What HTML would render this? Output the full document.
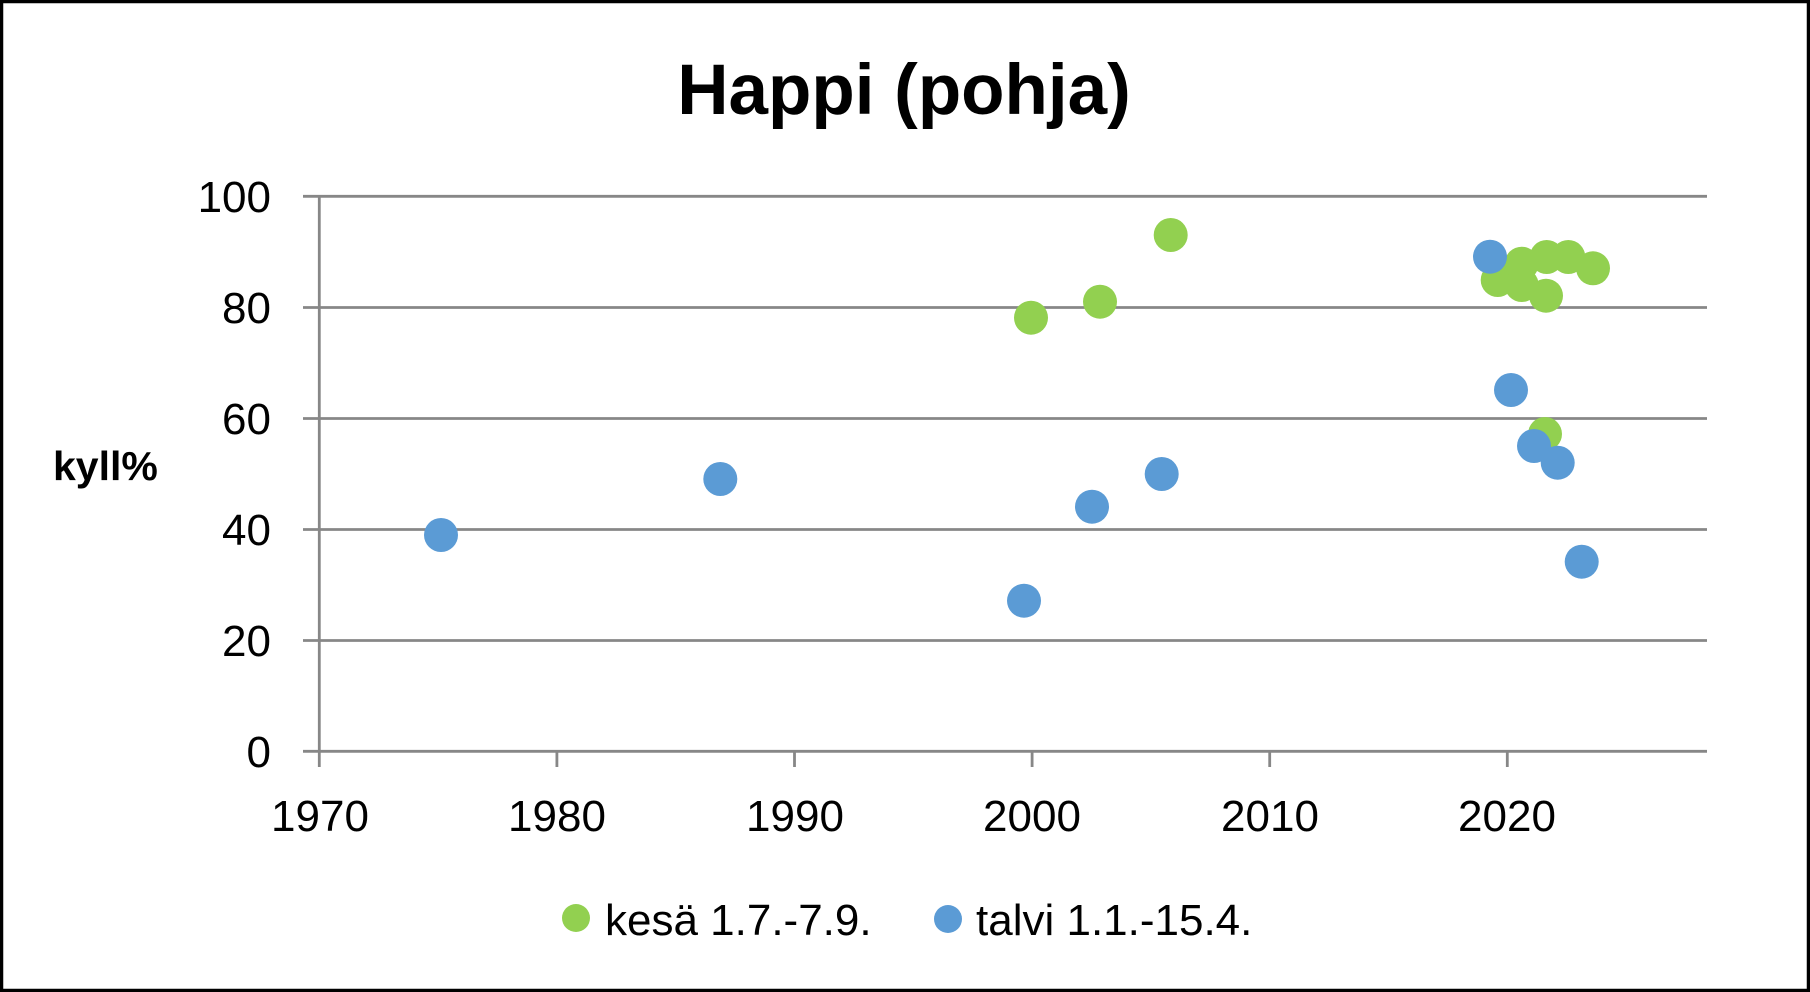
<!DOCTYPE html>
<html>
<head>
<meta charset="utf-8">
<style>
  html, body { margin: 0; padding: 0; background: #fff; }
  body { width: 1810px; height: 992px; overflow: hidden; }
  svg { display: block; }
  text { font-family: "Liberation Sans", sans-serif; fill: #000; }
</style>
</head>
<body>
<svg width="1810" height="992" viewBox="0 0 1810 992" xmlns="http://www.w3.org/2000/svg">
  <rect x="0" y="0" width="1810" height="992" fill="#fff"/>
  <rect x="1.5" y="1.5" width="1807" height="989" fill="none" stroke="#000" stroke-width="3.5"/>

  <!-- Title -->
  <text x="904" y="114" font-size="71" font-weight="bold" text-anchor="middle">Happi (pohja)</text>

  <!-- Gridlines -->
  <g stroke="#878787" stroke-width="2.8">
    <line x1="303" y1="196.3" x2="1707" y2="196.3"/>
    <line x1="303" y1="307.5" x2="1707" y2="307.5"/>
    <line x1="303" y1="418.5" x2="1707" y2="418.5"/>
    <line x1="303" y1="529.5" x2="1707" y2="529.5"/>
    <line x1="303" y1="640.5" x2="1707" y2="640.5"/>
    <line x1="303" y1="751.3" x2="1707" y2="751.3"/>
    <!-- y axis -->
    <line x1="319.3" y1="196.3" x2="319.3" y2="767"/>
    <!-- x ticks -->
    <line x1="556.9" y1="751.3" x2="556.9" y2="767"/>
    <line x1="794.5" y1="751.3" x2="794.5" y2="767"/>
    <line x1="1032.1" y1="751.3" x2="1032.1" y2="767"/>
    <line x1="1269.7" y1="751.3" x2="1269.7" y2="767"/>
    <line x1="1507.3" y1="751.3" x2="1507.3" y2="767"/>
  </g>

  <!-- Y tick labels -->
  <g font-size="44" text-anchor="end">
    <text x="271" y="212">100</text>
    <text x="271" y="323">80</text>
    <text x="271" y="434">60</text>
    <text x="271" y="545">40</text>
    <text x="271" y="656">20</text>
    <text x="271" y="767">0</text>
  </g>

  <!-- X tick labels -->
  <g font-size="44" text-anchor="middle">
    <text x="320" y="831">1970</text>
    <text x="557" y="831">1980</text>
    <text x="795" y="831">1990</text>
    <text x="1032" y="831">2000</text>
    <text x="1270" y="831">2010</text>
    <text x="1507" y="831">2020</text>
  </g>

  <!-- Y axis title -->
  <text x="53" y="480" font-size="41" font-weight="bold">kyll%</text>

  <!-- Green series (kesä) -->
  <g fill="#92D050">
    <circle cx="1031" cy="317.7" r="17"/>
    <circle cx="1100" cy="301.7" r="17"/>
    <circle cx="1170.7" cy="235" r="17"/>
    <circle cx="1545" cy="434" r="17"/>
    <circle cx="1497.7" cy="280" r="17"/>
    <circle cx="1521.7" cy="263.7" r="17"/>
    <circle cx="1521.7" cy="285" r="17"/>
    <circle cx="1546.7" cy="257" r="17"/>
    <circle cx="1568.3" cy="257" r="17"/>
    <circle cx="1593" cy="268.3" r="17"/>
    <circle cx="1546" cy="295.7" r="17"/>
  </g>

  <!-- Blue series (talvi) -->
  <g fill="#5B9BD5">
    <circle cx="441" cy="535" r="17"/>
    <circle cx="720.3" cy="479" r="17"/>
    <circle cx="1024" cy="600.7" r="17"/>
    <circle cx="1092" cy="506.7" r="17"/>
    <circle cx="1161.7" cy="474" r="17"/>
    <circle cx="1490" cy="256.7" r="17"/>
    <circle cx="1511" cy="390" r="17"/>
    <circle cx="1534" cy="446" r="17"/>
    <circle cx="1557.7" cy="462.7" r="17"/>
    <circle cx="1581.7" cy="561.7" r="17"/>
  </g>

  <!-- Legend -->
  <circle cx="576" cy="918" r="14" fill="#92D050"/>
  <text x="605" y="935" font-size="44">kesä 1.7.-7.9.</text>
  <circle cx="948" cy="919" r="14" fill="#5B9BD5"/>
  <text x="976" y="935" font-size="44">talvi 1.1.-15.4.</text>
</svg>
</body>
</html>
